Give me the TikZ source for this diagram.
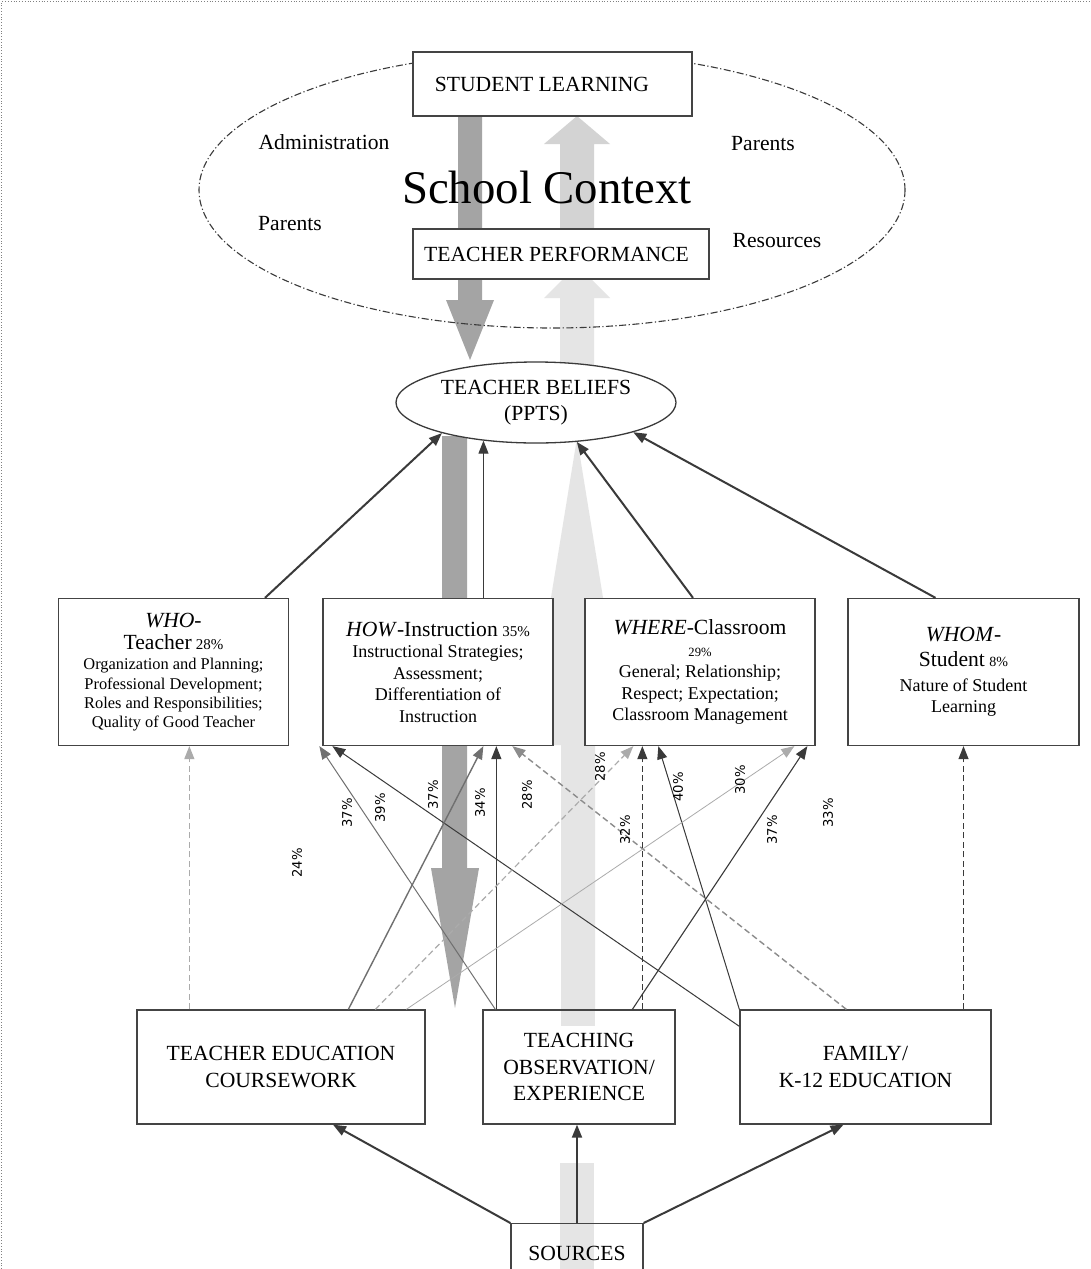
\documentclass[tikz,border=0pt]{standalone}
\usepackage{fontspec}
\setmainfont{Liberation Serif}
\newfontfamily\pctfont{DejaVu Sans}
\usetikzlibrary{arrows.meta,shapes.geometric}
\newcommand\ttlsz{\fontsize{21.6}{25}\selectfont}
\newcommand\lstsz{\fontsize{18}{21.5}\selectfont}
\newcommand\lstszs{\fontsize{16.4}{19.3}\selectfont}
\newcommand\capsz{\fontsize{21.6}{26.5}\selectfont}
\newcommand\pcsz{\fontsize{15}{17}\selectfont}
\definecolor{flowdark}{HTML}{A4A4A4}
\definecolor{flowlight}{HTML}{E5E5E5}
\definecolor{flowmid}{HTML}{D3D3D3}
\definecolor{edgec}{HTML}{444444}
\definecolor{inkdark}{HTML}{3A3A3A}
\definecolor{inkmid}{HTML}{707070}
\definecolor{inkgray}{HTML}{8C8C8C}
\definecolor{inklight}{HTML}{ABABAB}
\begin{document}
\begin{tikzpicture}[x=1pt,y=-1pt,
  box/.style={draw=edgec, line width=1.3pt, fill=white, inner sep=2pt, align=center},
  arrowtip/.style={-{Triangle[length=13pt,width=10pt]}},
  dsh/.style={dash pattern=on 6pt off 3.5pt},
  pct/.style={font=\pctfont\fontsize{13.2}{15}\selectfont, rotate=90, inner sep=0pt},
  ctxt/.style={font=\fontsize{21.6}{25}\selectfont, inner sep=0pt}
]
\useasboundingbox (0,0) rectangle (1090,1269);
\fill[white] (0,0) rectangle (1090,1269);
% frame
\draw[gray, line width=0.8pt, dotted] (1.5,1269) -- (1.5,1.5) -- (1090,1.5);

% ---- flow arrows (background) ----
\fill[flowdark] (458,110) -- (482,110) -- (482,300) -- (494,300) -- (470,360) -- (446,300) -- (458,300) -- cycle;
\fill[flowmid] (560,229) -- (560,144) -- (544,144) -- (577,116) -- (610,144) -- (594,144) -- (594,229) -- cycle;
\fill[flowlight] (560,368) -- (560,298) -- (544,298) -- (577,265) -- (610,298) -- (594,298) -- (594,368) -- cycle;
\fill[flowdark] (442,436) -- (467,436) -- (467,868) -- (479,868) -- (455,1008) -- (431,868) -- (442,868) -- cycle;
\fill[flowlight] (561,1020) -- (561,745) -- (527,745) -- (577,438) -- (627,745) -- (595,745) -- (595,1020) -- cycle;
\fill[flowlight] (560,1163) rectangle (594,1290);

% ---- school context ellipse ----
\node[draw=inkdark, line width=1.1pt, dash pattern=on 7pt off 2.5pt on 1.2pt off 2.5pt,
      ellipse, minimum width=706pt, minimum height=276pt, inner sep=0pt] (ctx) at (552,190) {};

% ---- boxes ----
\node[box, minimum width=279pt, minimum height=64pt, font=\capsz] (sl) at (552.5,84) {STUDENT LEARNING\hspace*{21pt}};
\node[box, minimum width=296pt, minimum height=50pt, font=\capsz] (tp) at (561,254) {TEACHER PERFORMANCE\hspace*{9pt}};
\node[draw=inkdark, line width=1.3pt, fill=white, ellipse, minimum width=280pt, minimum height=81pt,
      inner sep=0pt, align=center, font=\capsz] (tb) at (536,402.5) {TEACHER BELIEFS\\(PPTS)};

\node[box, minimum width=230pt, minimum height=147pt, font=\lstszs] (who) at (173.5,672)
  {{\ttlsz\textit{WHO}-}\\[3pt] {\ttlsz Teacher} {\pcsz 28\%}\\[1pt]
   Organization and Planning;\\ Professional Development;\\ Roles and Responsibilities;\\ Quality of Good Teacher};
\node[box, minimum width=230pt, minimum height=147pt, font=\lstsz] (how) at (438,672)
  {{\ttlsz\textit{HOW}-Instruction} {\pcsz 35\%}\\ Instructional Strategies;\\ Assessment;\\ Differentiation of\\ Instruction};
\node[box, minimum width=230pt, minimum height=147pt, font=\lstsz] (where) at (700,672)
  {{\ttlsz\textit{WHERE}-Classroom}\\ {\fontsize{12.6}{14}\selectfont 29\%}\\ General; Relationship;\\ Respect; Expectation;\\ Classroom Management};
\node[box, minimum width=231pt, minimum height=147pt, font=\lstsz] (whom) at (963.5,672)
  {{\ttlsz\textit{WHOM}-}\\[4pt] {\ttlsz Student} {\fontsize{14}{16}\selectfont 8\%}\\[3pt] Nature of Student\\ Learning};

\node[box, minimum width=288pt, minimum height=114pt, font=\capsz] (te) at (281,1067) {TEACHER EDUCATION\\COURSEWORK};
\node[box, minimum width=192pt, minimum height=114pt, font=\capsz] (teach) at (579,1067) {TEACHING\\OBSERVATION/\\EXPERIENCE};
\node[box, minimum width=251pt, minimum height=114pt, font=\capsz] (fam) at (865.5,1067) {FAMILY/\\K-12 EDUCATION};
\node[draw=edgec, line width=1.3pt, minimum width=132pt, minimum height=60pt, anchor=north, inner sep=0pt, font=\capsz] (src) at (577,1223) {SOURCES};
\fill[flowlight] (561,1011) rectangle (595,1026);

% ---- sources to the three origins ----
\draw[arrowtip, inkdark, line width=2pt] (src.north west) -- ([xshift=52]te.south);
\draw[arrowtip, inkdark, line width=2pt] (src.north) -- (src.north |- teach.south);
\draw[arrowtip, inkdark, line width=2pt] (src.north east) -- ([xshift=-22]fam.south);

% ---- categories to beliefs ----
\draw[arrowtip, inkdark, line width=2pt] ([xshift=91.5]who.north) -- (tb.198);
\draw[arrowtip, inkdark, line width=1pt] (how.north -| tb.216) -- (tb.216);
\draw[arrowtip, inkdark, line width=2pt] ([xshift=-7]where.north) -- (tb.316);
\draw[arrowtip, inkdark, line width=2pt] ([xshift=-28]whom.north) -- (tb.343);

% ---- origin end points ----
\coordinate (teA) at ([xshift=53]te.north west);
\coordinate (teB) at ([xshift=212]te.north west);
\coordinate (teC) at ([xshift=239]te.north west);
\coordinate (teD) at ([xshift=270]te.north west);
\coordinate (thA) at ([xshift=13]teach.north west);
\coordinate (thB) at ([xshift=14]teach.north west);
\coordinate (thC) at ([xshift=150]teach.north west);
\coordinate (thD) at ([xshift=160]teach.north west);
\coordinate (fmA) at ([yshift=-17]fam.north west);
\coordinate (fmB) at (fam.north west);
\coordinate (fmC) at ([xshift=107]fam.north west);
\coordinate (fmD) at (fam.north -| whom.south);
% ---- category end points ----
\coordinate (hwA) at ([xshift=-3]how.south west);
\coordinate (hwB) at ([xshift=10]how.south west);
\coordinate (hwC) at ([xshift=161]how.south west);
\coordinate (hwE) at ([xshift=190]how.south west);
\coordinate (whA) at ([xshift=49]where.south west);
\coordinate (whC) at ([xshift=74]where.south west);
\coordinate (whD) at ([xshift=210]where.south west);
\coordinate (whE) at ([xshift=223]where.south west);

% ---- origin-to-category connectors ----
\draw[arrowtip, inklight, line width=1.2pt, dsh] (teA) -- (teA |- who.south);
\draw[arrowtip, inkmid, line width=1pt] (thA) -- (hwA);
\draw[arrowtip, inkdark, line width=1pt] (fmA) -- (hwB);
\draw[arrowtip, inkmid, line width=1.4pt] (teB) -- (hwC);
\draw[arrowtip, inkdark, line width=1.4pt] (thB) -- (thB |- how.south);
\draw[arrowtip, inkgray, line width=1.4pt, dsh] (fmC) -- (hwE);
\draw[arrowtip, inklight, line width=1.2pt, dsh] (teC) -- (whA);
\draw[arrowtip, inkdark, line width=1.2pt, dsh] (thD) -- (thD |- where.south);
\draw[arrowtip, inkdark, line width=1pt] (fmB) -- (whC);
\draw[arrowtip, inklight, line width=0.8pt] (teD) -- (whD);
\draw[arrowtip, inkdark, line width=1.1pt] (thC) -- (whE);
\draw[arrowtip, inkdark, line width=1.2pt, dsh] (fmD) -- (whom.south);

% ---- percentages ----
\node[pct] (p24) at (297,863) {24\%};
\node[pct] (p37a) at (347,813) {37\%};
\node[pct] (p39) at (380,808) {39\%};
\node[pct] (p37b) at (433,795) {37\%};
\node[pct] (p34) at (480,803) {34\%};
\node[pct] (p28a) at (527,795) {28\%};
\node[pct] (p28b) at (600,767) {28\%};
\node[pct] (p32) at (625,830) {32\%};
\node[pct] (p40) at (678,787) {40\%};
\node[pct] (p30) at (740,780) {30\%};
\node[pct] (p37c) at (772,830) {37\%};
\node[pct] (p33) at (828,813) {33\%};

% ---- school context labels ----
\node[font=\fontsize{46.8}{50}\selectfont, inner sep=0pt] (sc) at (547,187) {School Context};
\node[ctxt] (adm) at (324,142) {Administration};
\node[ctxt] (par1) at (763,144) {Parents};
\node[ctxt] (par2) at (290,224) {Parents};
\node[ctxt] (res) at (777,241) {Resources};
\end{tikzpicture}
\end{document}
